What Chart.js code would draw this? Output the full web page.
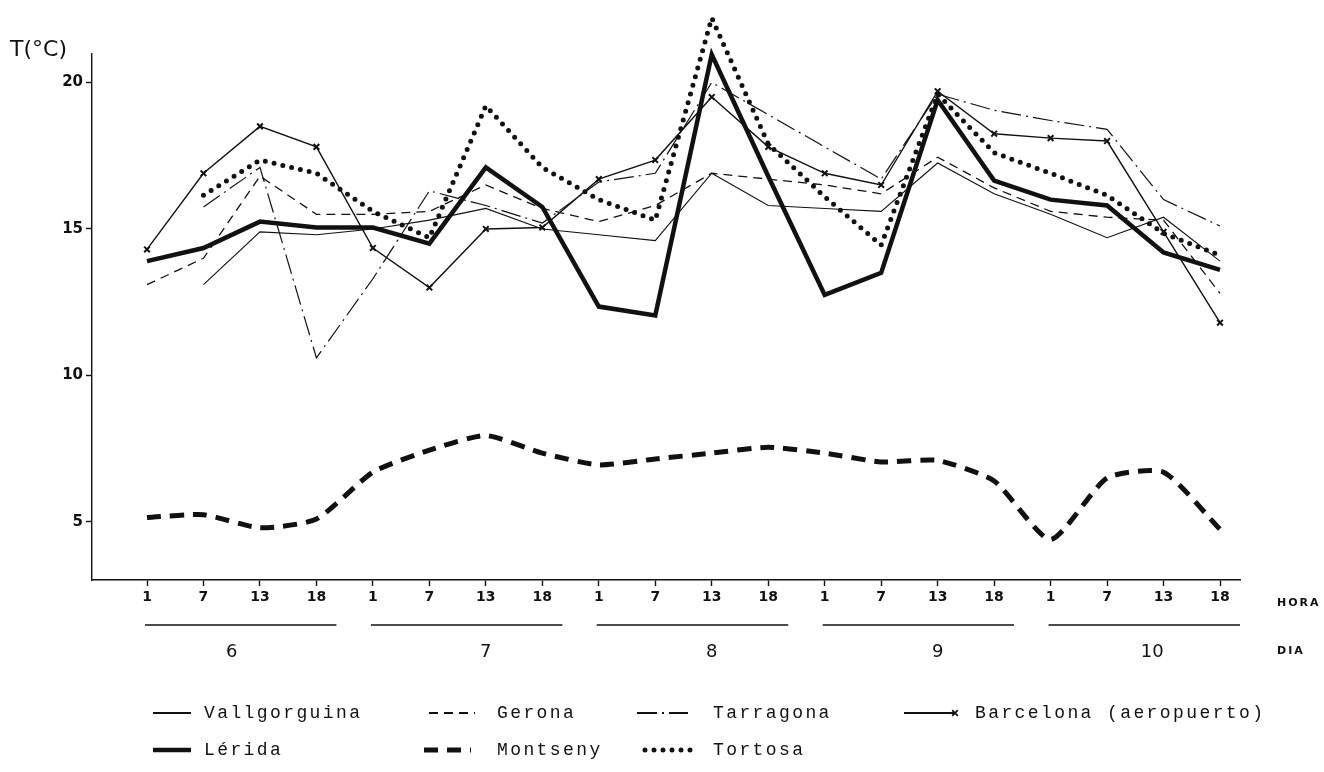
<!DOCTYPE html>
<html>
<head>
<meta charset="utf-8">
<script src="https://cdn.jsdelivr.net/npm/chart.js@4.4.0/dist/chart.umd.min.js"></script>
<style>
  body { margin: 0; background: #fff; }
  #wrap { width: 1324px; height: 772px; }
</style>
</head>
<body>
<div id="wrap"><canvas id="chart" width="1324" height="772"></canvas></div>
<script>
// hours of observation, 4 per day, days 6..10
const hours = [1, 7, 13, 18, 1, 7, 13, 18, 1, 7, 13, 18, 1, 7, 13, 18, 1, 7, 13, 18];
const days = ['6', '7', '8', '9', '10'];
const yTicks = [5, 10, 15, 20];

// temperatures (°C)
const vallgorguina = [null, 13.1, 14.9, 14.8, 15.0, 15.3, 15.7, 15.0, 14.8, 14.6, 16.9, 15.8, 15.7, 15.6, 17.25, 16.2, 15.5, 14.7, 15.4, 13.9];
const gerona       = [13.1, 14.0, 16.8, 15.5, 15.5, 15.6, 16.5, 15.7, 15.25, 15.8, 16.9, 16.7, 16.5, 16.2, 17.45, 16.4, 15.6, 15.4, 15.3, 12.8];
const tarragona    = [null, 15.75, 17.1, 10.6, 13.3, 16.3, 15.8, 15.2, 16.6, 16.9, 20.0, 18.9, 17.8, 16.7, 19.6, 19.05, 18.7, 18.4, 16.0, 15.1];
const barcelona    = [14.3, 16.9, 18.5, 17.8, 14.35, 13.0, 15.0, 15.05, 16.7, 17.35, 19.5, 17.8, 16.9, 16.5, 19.7, 18.25, 18.1, 18.0, 14.9, 11.8];
const lerida       = [13.9, 14.35, 15.25, 15.05, 15.05, 14.5, 17.1, 15.75, 12.35, 12.05, 20.95, 16.8, 12.75, 13.5, 19.4, 16.65, 16.0, 15.8, 14.2, 13.6];
const montseny     = [5.15, 5.25, 4.8, 5.1, 6.7, 7.45, 7.95, 7.35, 6.95, 7.15, 7.35, 7.55, 7.35, 7.05, 7.1, 6.4, 4.4, 6.5, 6.7, 4.75];
const tortosa      = [null, 16.15, 17.35, 16.9, 15.6, 14.7, 19.2, 17.1, 16.0, 15.3, 22.2, 17.9, 16.1, 14.45, 19.6, 17.6, 16.9, 16.15, 14.85, 14.1];

const ink = '#111';

function pts(arr) {
    return arr.map(function (v, i) { return { x: i, y: v }; });
}

const styles = {
    'Vallgorguina': { borderWidth: 1.1, borderDash: [] },
    'Gerona': { borderWidth: 1.3, borderDash: [9, 6] },
    'Tarragona': { borderWidth: 1.2, borderDash: [20, 5, 2, 5] },
    'Barcelona (aeropuerto)': { borderWidth: 1.4, borderDash: [], pointStyle: 'crossRot', pointRadius: 4, pointBorderWidth: 2 },
    'Lérida': { borderWidth: 4.5, borderDash: [] },
    'Montseny': { borderWidth: 5, borderDash: [14, 9], tension: 0.2 },
    'Tortosa': { borderWidth: 5, borderDash: [0, 9], borderCapStyle: 'round' }
};

function makeSet(label, arr) {
    const s = styles[label];
    return {
        label: label,
        data: pts(arr),
        borderColor: ink,
        backgroundColor: ink,
        borderWidth: s.borderWidth,
        borderDash: s.borderDash,
        borderCapStyle: s.borderCapStyle || 'butt',
        pointStyle: s.pointStyle || 'circle',
        pointRadius: s.pointRadius || 0,
        pointBorderWidth: s.pointBorderWidth || 1,
        tension: s.tension || 0,
        spanGaps: false,
        clip: false,
        fill: false
    };
}

// day underlines, day labels, axis names and the legend
const decorations = {
    id: 'decorations',
    afterDraw: function (chart) {
        const ctx = chart.ctx;
        const xs = chart.scales.x;
        ctx.save();
        ctx.fillStyle = ink;
        ctx.strokeStyle = ink;

        ctx.font = '22px "DejaVu Sans"';
        ctx.textBaseline = 'middle';
        ctx.fillText('T(°C)', 10, 50);

        // days
        const labelAt = [1.5, 6, 10, 14, 17.8];
        ctx.lineWidth = 1.3;
        ctx.font = '18px "DejaVu Sans"';
        ctx.textAlign = 'center';
        days.forEach(function (d, k) {
            const a = xs.getPixelForValue(k * 4) - 2;
            const b = xs.getPixelForValue(k * 4 + 3) + 20;
            ctx.beginPath();
            ctx.moveTo(a, 625);
            ctx.lineTo(b, 625);
            ctx.stroke();
            ctx.fillText(d, xs.getPixelForValue(labelAt[k]), 652);
        });

        ctx.textAlign = 'left';
        ctx.font = 'bold 11px "DejaVu Sans"';
        ctx.letterSpacing = '2px';
        ctx.fillText('HORA', 1277, 603);
        ctx.fillText('DIA', 1277, 651);

        // legend
        ctx.font = '18px "Liberation Mono"';
        ctx.letterSpacing = '2.4px';
        const legend = [
            ['Vallgorguina', 153, 191, 204, 713],
            ['Gerona', 429, 475, 497, 713],
            ['Tarragona', 637, 688, 713, 713],
            ['Barcelona (aeropuerto)', 904, 955, 975, 713],
            ['Lérida', 153, 191, 204, 750],
            ['Montseny', 424, 471, 497, 750],
            ['Tortosa', 645, 696, 713, 750]
        ];
        legend.forEach(function (it) {
            const s = styles[it[0]];
            ctx.save();
            ctx.lineWidth = Math.max(s.borderWidth, 1.8);
            ctx.setLineDash(s.borderDash);
            ctx.lineCap = s.borderCapStyle || 'butt';
            ctx.beginPath();
            ctx.moveTo(it[1], it[4]);
            ctx.lineTo(it[2], it[4]);
            ctx.stroke();
            if (s.pointStyle) {
                Chart.helpers.drawPoint(ctx, { pointStyle: s.pointStyle, radius: 4, borderWidth: 2 }, it[2], it[4]);
            }
            ctx.restore();
            ctx.fillText(it[0], it[3], it[4]);
        });
        ctx.restore();
    }
};

const chart = new Chart(document.getElementById('chart'), {
    type: 'line',
    data: {
        datasets: [
            makeSet('Vallgorguina', vallgorguina),
            makeSet('Gerona', gerona),
            makeSet('Tarragona', tarragona),
            makeSet('Barcelona (aeropuerto)', barcelona),
            makeSet('Montseny', montseny),
            makeSet('Tortosa', tortosa),
            makeSet('Lérida', lerida)
        ]
    },
    options: {
        responsive: false,
        animation: false,
        layout: { padding: { top: 54, right: 84, left: 0, bottom: 0 } },
        plugins: {
            legend: { display: false },
            tooltip: { enabled: false }
        },
        scales: {
            x: {
                type: 'linear',
                min: -0.974,
                max: 19.354,
                afterBuildTicks: function (scale) {
                    scale.ticks = hours.map(function (h, i) { return { value: i }; });
                },
                afterFit: function (scale) { scale.height = 192; },
                border: { color: ink, width: 1.6 },
                grid: { drawOnChartArea: false, color: ink, tickLength: 6, tickWidth: 1.4 },
                ticks: {
                    color: ink,
                    padding: 3,
                    maxRotation: 0,
                    font: { family: 'DejaVu Sans', size: 14, weight: 'bold' },
                    callback: function (v) { return String(hours[Math.round(v)]); }
                }
            },
            y: {
                type: 'linear',
                min: 3.02,
                max: 20.97,
                afterBuildTicks: function (scale) {
                    scale.ticks = yTicks.map(function (v) { return { value: v }; });
                },
                afterFit: function (scale) { scale.width = 92; },
                border: { color: ink, width: 1.4 },
                grid: { drawOnChartArea: false, color: ink, tickLength: 6, tickWidth: 1.4 },
                ticks: {
                    color: ink,
                    padding: 3,
                    font: { family: 'DejaVu Sans', size: 15, weight: 'bold' }
                }
            }
        }
    },
    plugins: [decorations]
});
</script>
</body>
</html>
